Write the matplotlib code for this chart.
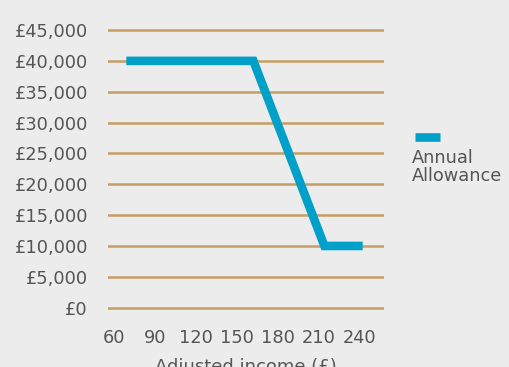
import matplotlib
matplotlib.use("Agg")
import matplotlib.pyplot as plt
from matplotlib.lines import Line2D

# data
income = [69, 162, 214, 242]          # adjusted income (£k)
allowance = [40000, 40000, 10000, 10000]
x_ticks = [60, 90, 120, 150, 180, 210, 240]
y_ticks = [0, 5000, 10000, 15000, 20000, 25000, 30000, 35000, 40000, 45000]
series_name = "Annual\nAllowance"

BG = "#ececec"
GRID = "#c59f63"
BLUE = "#00a0c8"
TEXT = "#555555"

plt.rcParams['font.family'] = ['DejaVu Sans']

fig = plt.figure(figsize=(5.09, 3.67), dpi=100, facecolor=BG)
ax = fig.add_axes([108 / 509, 47 / 367, 276 / 509, 302.3 / 367])
ax.set_facecolor(BG)

for y in y_ticks:
    ax.axhline(y, color=GRID, linewidth=1.8, zorder=1)

ax.plot(income, allowance, color=BLUE, linewidth=6.2,
        solid_joinstyle='miter', solid_capstyle='butt', zorder=3)

ax.set_xlim(55.6, 257.6)
ax.set_ylim(-2000, 47000)
ax.set_xticks(x_ticks)
ax.set_yticks(y_ticks)
ax.yaxis.set_major_formatter(plt.FuncFormatter(lambda v, p: "£{:,.0f}".format(v)))
ax.tick_params(axis='y', length=0, pad=14.4, labelsize=12.8, labelcolor=TEXT)
ax.tick_params(axis='x', length=0, pad=6.5, labelsize=12.8, labelcolor=TEXT)
for s in ax.spines.values():
    s.set_visible(False)

ax.set_xlabel("Adjusted income (£)", fontsize=13, color=TEXT, labelpad=8)

# legend: swatch above the label
fig.add_artist(Line2D([415 / 509, 440 / 509], [1 - 137.5 / 367, 1 - 137.5 / 367],
                      transform=fig.transFigure, color=BLUE, linewidth=6.2,
                      solid_capstyle='butt'))
fig.text(412 / 509, 1 - 149 / 367, series_name, fontsize=12.8, color=TEXT,
         ha='left', va='top', linespacing=1.0)

fig.savefig("out.png", dpi=100, facecolor=BG)
